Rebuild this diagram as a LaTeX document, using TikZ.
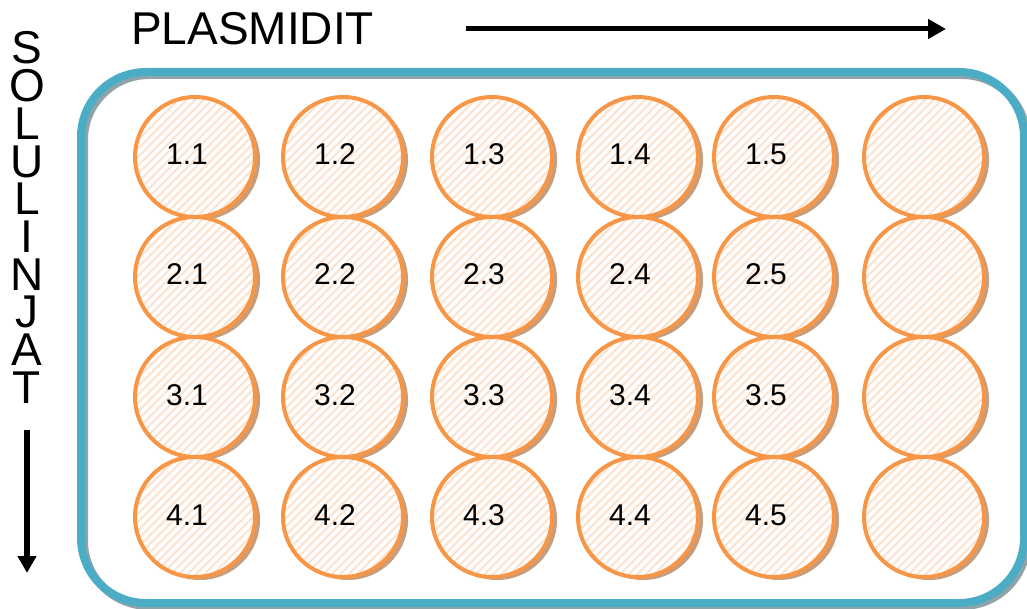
\documentclass[tikz,border=0pt]{standalone}
\usepackage{fontspec}
\setmainfont{Liberation Sans}
\usetikzlibrary{patterns.meta,shadows,arrows.meta}
\definecolor{plateblue}{HTML}{4BACC6}
\definecolor{plategray}{HTML}{8FA3A8}
\definecolor{wellorange}{HTML}{F79646}
\definecolor{welltan}{HTML}{C69E7E}
\definecolor{hatch}{HTML}{FEE2CD}
\begin{document}
\begin{tikzpicture}[x=1pt,y=-1pt,
  well/.style={circle,inner sep=0pt,minimum size=120pt,draw=wellorange,line width=4pt,
    drop shadow={shadow xshift=5pt,shadow yshift=-3pt,fill=welltan,opacity=1},
    preaction={fill=white},
    pattern={Lines[angle=45,distance=6pt,line width=2pt]},pattern color=hatch},
  lbl/.style={anchor=base,inner sep=0pt,font=\fontsize{30}{36}\selectfont},
  big/.style={inner sep=0pt,font=\fontsize{46}{54}\selectfont},
  vletter/.style={big,text height=32pt,text depth=0pt},
  axisarrow/.style={line width=#1,black}]
\useasboundingbox (0,0) rectangle (1027,609);
% plate
\draw[plategray,line width=8pt,rounded corners=65pt] (84,75) rectangle (1027,606);
\draw[plateblue,line width=8pt,rounded corners=65pt] (81,72) rectangle (1024,603);
% axis titles
\node[big,anchor=base west] (plas) at (131,45) {PLASMIDIT};
\foreach \ch [count=\i] in {S,O,L,U,L,I,N,J,A,T}
  \node[vletter,anchor=base] (v\i) at (27,{64+(\i-1)*37.7}) {\ch};
% arrows
\coordinate (hs) at (466,29);
\coordinate (he) at (946,29);
\draw[axisarrow=5pt,-{Triangle[length=18pt,width=19pt]}] (hs) -- (he);
\coordinate (vs) at (27,430);
\coordinate (ve) at (27,573);
\draw[axisarrow=6pt,-{Triangle[length=17pt,width=18pt]}] (vs) -- (ve);
% wells
\foreach \r/\y in {1/157,2/277,3/397,4/517}{
  \foreach \c/\x in {1/195,2/343,3/492,4/638,5/774,6/924}{
    \node[well] (w\r\c) at (\x,\y) {};
    \ifnum\c<6
      \node[lbl] (t\r\c) at (\x-8,\y+8) {\r.\c};
    \fi
  }
}
\end{tikzpicture}
\end{document}
